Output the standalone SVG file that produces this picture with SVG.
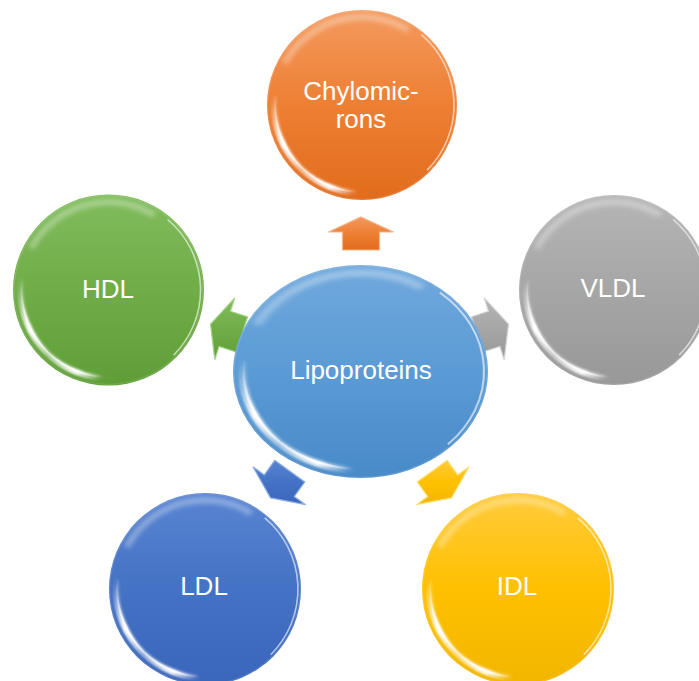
<svg xmlns="http://www.w3.org/2000/svg" xmlns:xlink="http://www.w3.org/1999/xlink" width="699" height="681" viewBox="0 0 699 681">
  <style>
    .label { font-family: "Liberation Sans", Arial, sans-serif; font-size: 26px; fill: #ffffff; text-anchor: middle; }
    .arrow { stroke-width: 1.2; stroke-linejoin: miter; }
  </style>
  <defs>
    <!-- body fills: lighter at the top, deeper at the bottom -->
    <linearGradient id="gOrange" x1="0" y1="0" x2="0" y2="1">
      <stop offset="0" stop-color="#F39A5E"/><stop offset="0.5" stop-color="#EE7F33"/><stop offset="1" stop-color="#E26C1C"/>
    </linearGradient>
    <linearGradient id="gGreen" x1="0" y1="0" x2="0" y2="1">
      <stop offset="0" stop-color="#80BC5C"/><stop offset="0.5" stop-color="#70AD47"/><stop offset="1" stop-color="#5F9E36"/>
    </linearGradient>
    <linearGradient id="gGray" x1="0" y1="0" x2="0" y2="1">
      <stop offset="0" stop-color="#B5B5B5"/><stop offset="0.5" stop-color="#A6A6A6"/><stop offset="1" stop-color="#989898"/>
    </linearGradient>
    <linearGradient id="gSky" x1="0" y1="0" x2="0" y2="1">
      <stop offset="0" stop-color="#70A8DD"/><stop offset="0.5" stop-color="#5B9BD5"/><stop offset="1" stop-color="#488AC8"/>
    </linearGradient>
    <linearGradient id="gBlue" x1="0" y1="0" x2="0" y2="1">
      <stop offset="0" stop-color="#5884D2"/><stop offset="0.5" stop-color="#4472C4"/><stop offset="1" stop-color="#3A66BB"/>
    </linearGradient>
    <linearGradient id="gYellow" x1="0" y1="0" x2="0" y2="1">
      <stop offset="0" stop-color="#FFCB3C"/><stop offset="0.5" stop-color="#FFC000"/><stop offset="1" stop-color="#F2B600"/>
    </linearGradient>

    <linearGradient id="glossLL" x1="0" y1="0" x2="1" y2="1">
      <stop offset="0" stop-color="#fff" stop-opacity="0.05"/>
      <stop offset="0.3" stop-color="#fff" stop-opacity="1"/>
      <stop offset="0.55" stop-color="#fff" stop-opacity="0.5"/>
      <stop offset="0.82" stop-color="#fff" stop-opacity="0.95"/>
      <stop offset="1" stop-color="#fff" stop-opacity="0.05"/>
    </linearGradient>

    <filter id="soft" x="-30%" y="-30%" width="160%" height="160%">
      <feGaussianBlur stdDeviation="1.3"/>
    </filter>
    <filter id="softer" x="-30%" y="-30%" width="160%" height="160%">
      <feGaussianBlur stdDeviation="2.6"/>
    </filter>

    <!-- glossy rim lighting for a sphere of radius 95 centred on the origin -->
    <g id="gloss" fill="none">
      <circle r="94.3" stroke="#fff" stroke-opacity="0.12" stroke-width="1.2"/>
      <path d="M-87.7,-7.7 A88,88 0 0 0 -7.7,87.7" stroke="url(#glossLL)" stroke-width="6" stroke-linecap="round" filter="url(#soft)"/>
      <path d="M-86.7,-7.6 A87,87 0 0 0 -7.6,86.7" stroke="url(#glossLL)" stroke-width="2" stroke-linecap="round"/>
      <path d="M-76.2,-44 A88,88 0 0 1 44,-76.2" stroke="#fff" stroke-opacity="0.35" stroke-width="6" stroke-linecap="round" filter="url(#softer)"/>
      <path d="M59.1,-70.5 A92,92 0 0 1 65.1,65.1" stroke="#fff" stroke-opacity="0.6" stroke-width="1.6"/>
    </g>
  </defs>

  <rect width="699" height="681" fill="#ffffff"/>

  <!-- block arrows radiating from the hub -->
  <g id="connectors">
    <polygon class="arrow" fill="url(#gOrange)" stroke="#F7B488" points="361,217 393.5,232 379.5,232 379.5,250 342.5,250 342.5,232 328.5,232"/>
    <polygon class="arrow" fill="url(#gGreen)" stroke="#A6D68A" points="210.5,324.2 234.8,297.9 230.5,311.2 247.6,316.8 236.2,352 219.1,346.4 214.8,359.8"/>
    <polygon class="arrow" fill="url(#gGray)" stroke="#D4D4D4" points="508.5,324.2 484.2,297.9 488.5,311.2 471.4,316.8 482.8,352 499.9,346.4 504.2,359.8"/>
    <polygon class="arrow" fill="url(#gBlue)" stroke="#8FB0E6" points="270.5,497.9 305.7,504.7 294.3,496.5 304.8,481.9 274.8,460.3 264.3,474.9 252.9,466.7"/>
    <polygon class="arrow" fill="url(#gYellow)" stroke="#FFE07A" points="451.5,497.9 416.3,504.7 427.7,496.5 417.2,481.9 447.2,460.3 457.7,474.9 469.1,466.7"/>
  </g>

  <g id="node-chylomicrons">
    <circle cx="362" cy="105" r="95" fill="url(#gOrange)"/>
    <use xlink:href="#gloss" href="#gloss" transform="translate(362,105)"/>
    <text class="label" x="361" y="100">Chylomic-</text>
    <text class="label" x="361" y="128">rons</text>
  </g>

  <g id="node-hdl">
    <circle cx="108.5" cy="290" r="95.5" fill="url(#gGreen)"/>
    <use xlink:href="#gloss" href="#gloss" transform="translate(108.5,290)"/>
    <text class="label" x="108" y="298">HDL</text>
  </g>

  <g id="node-vldl">
    <circle cx="614" cy="290" r="95" fill="url(#gGray)"/>
    <use xlink:href="#gloss" href="#gloss" transform="translate(614,290)"/>
    <text class="label" x="613" y="297">VLDL</text>
  </g>

  <g id="node-lipoproteins">
    <ellipse cx="360.5" cy="371.5" rx="127.5" ry="106.5" fill="url(#gSky)"/>
    <use xlink:href="#gloss" href="#gloss" transform="translate(360.5,371.5) scale(1.342,1.121)"/>
    <text class="label" x="361" y="379">Lipoproteins</text>
  </g>

  <g id="node-ldl">
    <circle cx="205" cy="589" r="96" fill="url(#gBlue)"/>
    <use xlink:href="#gloss" href="#gloss" transform="translate(205,589) scale(1.01)"/>
    <text class="label" x="204" y="595">LDL</text>
  </g>

  <g id="node-idl">
    <circle cx="518" cy="589" r="96" fill="url(#gYellow)"/>
    <use xlink:href="#gloss" href="#gloss" transform="translate(518,589) scale(1.01)"/>
    <text class="label" x="517" y="595">IDL</text>
  </g>
</svg>
